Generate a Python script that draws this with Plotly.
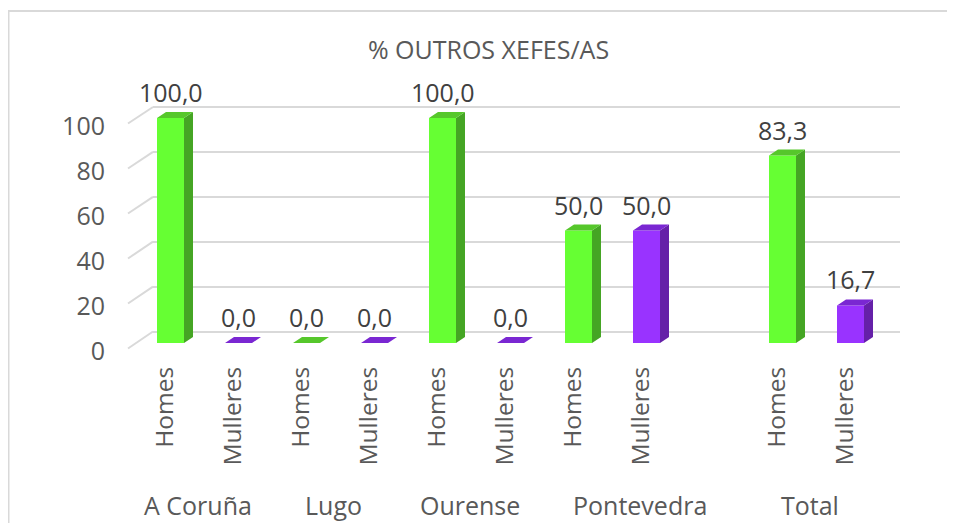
import plotly.graph_objects as go

# ---------------- data ----------------
groups = ["A Coruña", "Lugo", "Ourense", "Pontevedra", "Total"]
sexes = ["Homes", "Mulleres"]
homes = [100.0, 0.0, 100.0, 50.0, 83.3]
mulleres = [0.0, 0.0, 0.0, 50.0, 16.7]
y_ticks = [0, 20, 40, 60, 80, 100]
title_text = "% OUTROS XEFES/AS"
# number of category slots per group (Pontevedra is followed by an empty category)
slots_per_group = [2, 2, 2, 3, 2]

# ---------------- layout geometry (page pixels) ----------------
PAGE_W, PAGE_H = 955, 531
OFF = 8  # page body margin
W, H = PAGE_W - OFF, PAGE_H - 2 * OFF
L, R, T, B = 106, 930, 80, 364
PX_X = 68.0      # pixels per category slot
PX_Y = 2.25      # pixels per value unit
X_ZERO_PX = 170.5
Y_ZERO_PX = 343.0
XR0 = -(X_ZERO_PX - L) / PX_X
XR1 = XR0 + (R - L) / PX_X
YR0 = -(B - Y_ZERO_PX) / PX_Y
YR1 = YR0 + (B - T) / PX_Y
FS = 25

def px2paper_x(px):
    return (px - L) / (R - L)

def px2paper_y(py):
    return (B - py) / (B - T)

BAR_W = 27 / PX_X
DX = 9 / PX_X
DY = 6 / PX_Y

GREEN = ["#66FF33", "#45A524", "#56C72B"]   # front, side, top
PURPLE = ["#9933FF", "#6520A8", "#7A27D2"]

# positions of each bar
starts = []
s = 0
for n in slots_per_group:
    starts.append(s)
    s += n
x_h = [st for st in starts]
x_m = [st + 1 for st in starts]

fig = go.Figure()

# gridline subplot (back wall) on x/y
GRID_BOTTOM_PX, GRID_TOP_PX = 331.5, 107.0
gpx = (GRID_BOTTOM_PX - GRID_TOP_PX) / 100.0
g0, g1 = -2, 102
fig.add_trace(go.Scatter(x=[0.5], y=[50], mode="markers", marker=dict(opacity=0),
                         hoverinfo="skip", showlegend=False, xaxis="x", yaxis="y"))

def faces(xs, vals):
    side_x, side_y, top_x, top_y = [], [], [], []
    for x, v in zip(xs, vals):
        xr = x + BAR_W / 2
        xl = x - BAR_W / 2
        side_x += [xr, xr, xr + DX, xr + DX, xr, None]
        side_y += [0, v, v + DY, DY, 0, None]
        top_x += [xl, xr, xr + DX, xl + DX, xl, None]
        top_y += [v, v, v + DY, v + DY, v, None]
    return side_x, side_y, top_x, top_y

for xs, vals, col, name in [(x_h, homes, GREEN, sexes[0]), (x_m, mulleres, PURPLE, sexes[1])]:
    fig.add_trace(go.Bar(x=xs, y=vals, width=BAR_W, marker=dict(color=col[0], line=dict(width=0)),
                         name=name, showlegend=False, xaxis="x2", yaxis="y2", cliponaxis=False))
    sx, sy, tx, ty = faces(xs, vals)
    fig.add_trace(go.Scatter(x=sx, y=sy, fill="toself", fillcolor=col[1], mode="lines",
                             line=dict(width=0, color=col[1]), hoverinfo="skip", showlegend=False,
                             xaxis="x2", yaxis="y2", cliponaxis=False))
    fig.add_trace(go.Scatter(x=tx, y=ty, fill="toself", fillcolor=col[2], mode="lines",
                             line=dict(width=0, color=col[2]), hoverinfo="skip", showlegend=False,
                             xaxis="x2", yaxis="y2", cliponaxis=False))

annotations = []
# data labels
for xs, vals in [(x_h, homes), (x_m, mulleres)]:
    for x, v in zip(xs, vals):
        annotations.append(dict(x=x, y=v, xref="x2", yref="y2", text=f"{v:.1f}".replace(".", ","),
                                showarrow=False, yanchor="middle", yshift=26,
                                font=dict(family="Open Sans", size=FS, color="#404040")))
# group labels
for g, st, n in zip(groups, starts, slots_per_group):
    annotations.append(dict(x=st + (n - 1) / 2, y=px2paper_y(505), xref="x2", yref="paper",
                            text=g, showarrow=False, yanchor="middle", xshift=-7,
                            font=dict(family="Open Sans", size=FS, color="#595959")))

shapes = []
# left side-wall gridlines (diagonals)
for t in y_ticks:
    front_px = Y_ZERO_PX - t * PX_Y + 5.5
    back_px = GRID_BOTTOM_PX - t * gpx
    shapes.append(dict(type="line", xref="paper", yref="paper",
                       x0=px2paper_x(128), y0=px2paper_y(front_px),
                       x1=px2paper_x(153), y1=px2paper_y(back_px),
                       line=dict(color="#D9D9D9", width=2), layer="below"))
# chart border (left and top) as one open path
bx = px2paper_x(OFF + 0.5)
by_top = px2paper_y(11)
by_bot = px2paper_y(PAGE_H + 20)
bx_right = px2paper_x(PAGE_W + 20)
shapes.append(dict(type="path", xref="paper", yref="paper",
                   path=f"M {bx},{by_bot} L {bx},{by_top} L {bx_right},{by_top}",
                   line=dict(color="#D9D9D9", width=2), fillcolor="rgba(0,0,0,0)"))

tickvals_x = x_h + x_m
ticktext_x = [sexes[0]] * len(x_h) + [sexes[1]] * len(x_m)

fig.update_layout(
    width=W, height=H,
    margin=dict(l=L - OFF, r=W - (R - OFF), t=T - OFF, b=H - (B - OFF), pad=0),
    paper_bgcolor="white", plot_bgcolor="rgba(0,0,0,0)",
    showlegend=False,
    title=dict(text=title_text, x=(488.5 - OFF) / W, y=1 - (50 - OFF) / H,
               xanchor="center", yanchor="middle", xref="container", yref="container",
               font=dict(family="Open Sans", size=FS, color="#595959")),
    xaxis=dict(domain=[px2paper_x(153), px2paper_x(900)], range=[0, 1], visible=False,
               anchor="y", fixedrange=True),
    yaxis=dict(domain=[px2paper_y(GRID_BOTTOM_PX + 2 * gpx), px2paper_y(GRID_TOP_PX - 2 * gpx)],
               range=[g0, g1], tickvals=y_ticks, showticklabels=False, showgrid=True,
               gridcolor="#D9D9D9", gridwidth=2, zeroline=False, showline=False, ticks="",
               anchor="x", fixedrange=True),
    xaxis2=dict(domain=[0, 1], range=[XR0, XR1], tickvals=tickvals_x, ticktext=ticktext_x,
                tickangle=-90, ticks="", showgrid=False, zeroline=False, showline=False,
                ticklabelshift=-5, ticklabelstandoff=-3, anchor="y2",
                tickfont=dict(family="Open Sans", size=24.5, color="#595959")),
    yaxis2=dict(domain=[0, 1], range=[YR0, YR1], tickvals=y_ticks, ticks="", showgrid=False,
                zeroline=False, showline=False, ticklabelshift=8, anchor="x2",
                tickfont=dict(family="Open Sans", size=FS, color="#595959")),
    annotations=annotations,
    shapes=shapes,
)

fig.write_html("out.html")
